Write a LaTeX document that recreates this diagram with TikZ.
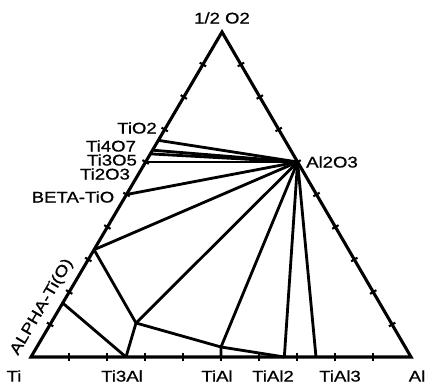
\documentclass[tikz,border=0pt]{standalone}
\usepackage{fontspec}
\newfontfamily\letterfont[FakeStretch=1.2,FakeBold=0.9]{Liberation Sans}
\usetikzlibrary{calc}

\begin{document}
\begin{tikzpicture}[
  x=0.025cm, y=-0.025cm,
  side/.style={line width=2.2pt, line join=miter},
  tie/.style={line width=2pt},
  tickmark/.style={line width=1.5pt},
  lbl/.style={font=\letterfont\fontsize{11}{13}\selectfont, inner sep=0pt},
]
\useasboundingbox (0,0) rectangle (426,385);

% Corners
\coordinate (Ti) at (31,357);
\coordinate (Al) at (411,357);
\coordinate (O) at (222,32);

% Phases on the Ti-O side
\coordinate (TiO2) at ($(Ti)!2/3!(O)$);
\coordinate (Ti4O7) at ($(Ti)!7/11!(O)$);
\coordinate (Ti3O5) at ($(Ti)!5/8!(O)$);
\coordinate (Ti2O3) at ($(Ti)!3/5!(O)$);
\coordinate (TiO) at ($(Ti)!1/2!(O)$);
\coordinate (alphaHi) at ($(Ti)!0.33!(O)$);
\coordinate (alphaLo) at ($(Ti)!0.166!(O)$);

% Phases on the Al-O and Ti-Al sides
\coordinate (Al2O3) at ($(Al)!3/5!(O)$);
\coordinate (Ti3Al) at ($(Ti)!1/4!(Al)$);
\coordinate (TiAl) at ($(Ti)!1/2!(Al)$);
\coordinate (TiAl2) at ($(Ti)!2/3!(Al)$);
\coordinate (TiAl3) at ($(Ti)!3/4!(Al)$);

% Inner corners
\coordinate (P) at (136,323);
\coordinate (Q) at (221,347);

% Tie lines
\foreach \p in {TiO2,Ti4O7,Ti3O5,Ti2O3,TiO,alphaHi,P,Q,TiAl2,TiAl3}
  \draw[tie] (Al2O3) -- (\p);
\draw[tie] (alphaHi) -- (P) -- (Ti3Al);
\draw[tie] (alphaLo) -- (Ti3Al);
\draw[tie] (P) -- (Q) -- (TiAl2);
\draw[tie] (Q) -- (TiAl);

% Triangle
\draw[side] (Ti) -- (Al) -- (O) -- cycle;

% Ticks every tenth
\foreach \a/\b in {Ti/Al,Al/O,O/Ti}
  \foreach \k in {1,...,9} {
    \coordinate (t) at ($(\a)!\k/10!(\b)$);
    \draw[tickmark] ($(t)!2.6pt!90:(\b)$) -- ($(t)!2.6pt!-90:(\b)$);
  }

% Labels
\node[lbl] (lO) at (222,18) {1/2 O2};
\node[lbl] (lTiO2) at (137,128) {TiO2};
\node[lbl] (lTi4O7) at (111,146) {Ti4O7};
\node[lbl] (lTi3O5) at (112,160) {Ti3O5};
\node[lbl] (lTi2O3) at (105,174) {Ti2O3};
\node[lbl] (lTiO) at (73,197) {BETA-TiO};
\node[lbl, rotate=59.6] (lalpha) at (42,307) {ALPHA-Ti(O)};
\node[lbl] (lAl2O3) at (332,162) {Al2O3};
\node[lbl] (lTi) at (14,376) {Ti};
\node[lbl] (lTi3Al) at (122,376) {Ti3Al};
\node[lbl] (lTiAl) at (217,376) {TiAl};
\node[lbl] (lTiAl2) at (273,376) {TiAl2};
\node[lbl] (lTiAl3) at (340,376) {TiAl3};
\node[lbl] (lAl) at (417,376) {Al};
\end{tikzpicture}
\end{document}
